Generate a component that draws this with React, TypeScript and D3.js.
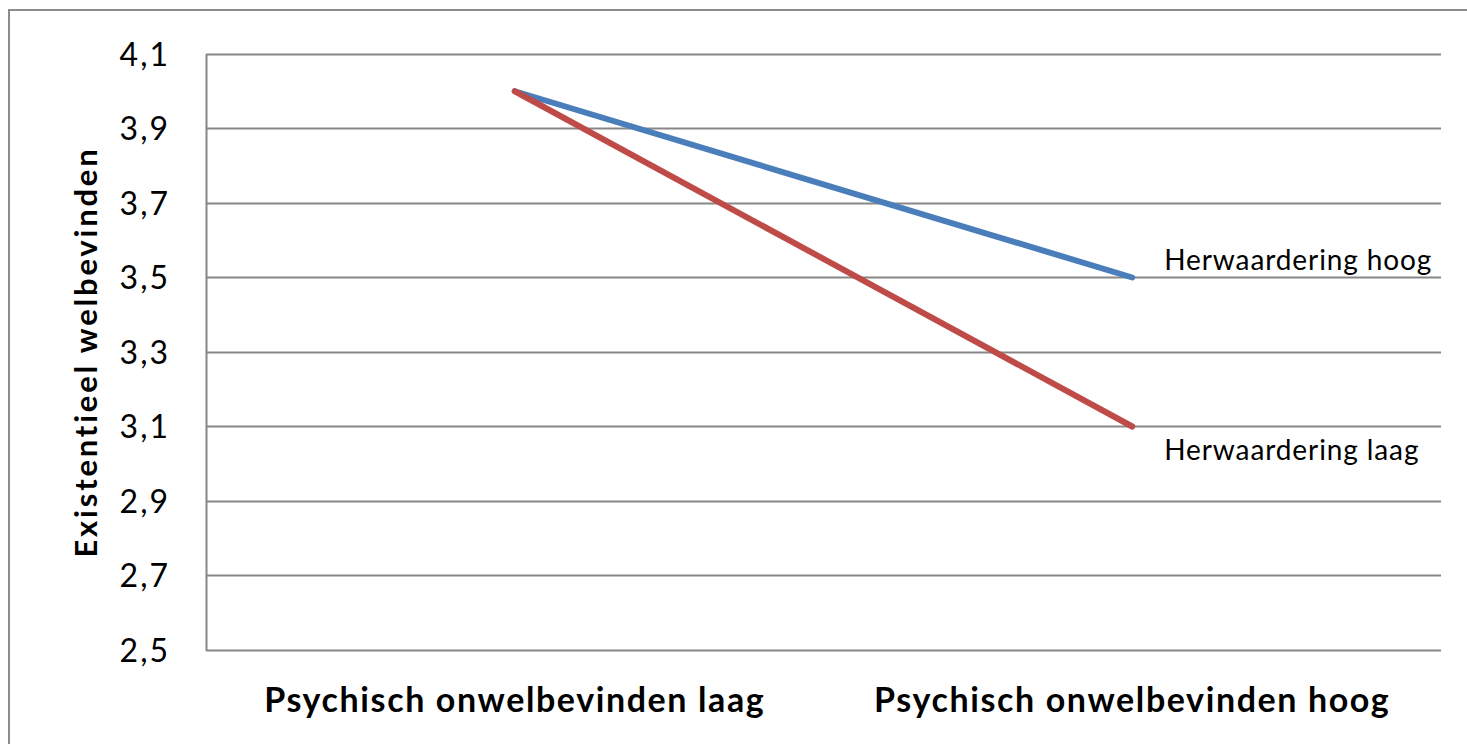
import React, { useEffect, useRef } from 'react';
import * as d3 from 'd3';

const categories = ['Psychisch onwelbevinden laag', 'Psychisch onwelbevinden hoog'];
const seriesNames = ['Herwaardering hoog', 'Herwaardering laag'];
const herwaarderingHoog = [4.0, 3.5];
const herwaarderingLaag = [4.0, 3.1];
const yTicks = [2.5, 2.7, 2.9, 3.1, 3.3, 3.5, 3.7, 3.9, 4.1];
const seriesColors = ['#4a7ebb', '#be4b48'];

const App = () => {
  const chartRef = useRef<SVGSVGElement>(null);

  useEffect(() => {
    document.body.style.margin = '0';
    const width = 1467;
    const height = 744;
    const margin = { top: 54, right: 26, bottom: 94, left: 206 };
    const font = 'Lato, "Open Sans", sans-serif';

    const svg = d3.select(chartRef.current);
    svg.selectAll('*').remove();

    svg.append('rect').attr('width', width).attr('height', height).attr('fill', 'white');

    // outer chart border, only top and left edges show in the picture
    svg
      .append('path')
      .attr('d', `M9,${height} L9,10 L${width},10`)
      .attr('fill', 'none')
      .attr('stroke', '#8c8c8c')
      .attr('stroke-width', 2);

    const x = d3
      .scaleBand()
      .domain(categories)
      .range([margin.left, width - margin.right]);

    const y = d3
      .scaleLinear()
      .domain([2.5, 4.1])
      .range([height - margin.bottom, margin.top]);

    const fmt = (v: number) => v.toFixed(1).replace('.', ',');

    // gridlines
    svg
      .append('g')
      .selectAll('line')
      .data(yTicks)
      .enter()
      .append('line')
      .attr('x1', margin.left)
      .attr('x2', width - margin.right)
      .attr('y1', (d) => Math.round(y(d)) + 0.5)
      .attr('y2', (d) => Math.round(y(d)) + 0.5)
      .attr('stroke', '#878787')
      .attr('stroke-width', 2);

    // vertical axis line
    svg
      .append('line')
      .attr('x1', margin.left + 0.5)
      .attr('x2', margin.left + 0.5)
      .attr('y1', y(4.1))
      .attr('y2', y(2.5) + 1)
      .attr('stroke', '#878787')
      .attr('stroke-width', 2);

    // y tick labels
    svg
      .append('g')
      .selectAll('text')
      .data(yTicks)
      .enter()
      .append('text')
      .attr('x', 170)
      .attr('y', (d) => y(d))
      .attr('dy', '0.36em')
      .attr('text-anchor', 'end')
      .style('font-family', font)
      .style('font-size', '32px')
      .style('letter-spacing', '2px')
      .style('fill', '#000')
      .text(fmt);

    // x category labels
    svg
      .append('g')
      .selectAll('text')
      .data(categories)
      .enter()
      .append('text')
      .attr('x', (d) => (x(d) as number) + x.bandwidth() / 2)
      .attr('y', 712)
      .attr('text-anchor', 'middle')
      .style('font-family', font)
      .style('font-weight', 'bold')
      .style('font-size', '34px')
      .style('letter-spacing', '1.6px')
      .style('fill', '#000')
      .text((d) => d);

    // y axis title
    svg
      .append('text')
      .attr('transform', `translate(97, ${(y(4.1) + y(2.5)) / 2}) rotate(-90)`)
      .attr('text-anchor', 'middle')
      .style('font-family', font)
      .style('font-weight', 'bold')
      .style('font-size', '31px')
      .style('letter-spacing', '2.8px')
      .style('fill', '#000')
      .text('Existentieel welbevinden');

    const line = d3
      .line<number>()
      .x((d, i) => (x(categories[i]) as number) + x.bandwidth() / 2)
      .y((d) => y(d));

    const series = [herwaarderingHoog, herwaarderingLaag];

    svg
      .append('g')
      .selectAll('path')
      .data(series)
      .enter()
      .append('path')
      .attr('d', (d) => line(d))
      .attr('fill', 'none')
      .attr('stroke', (d, i) => seriesColors[i])
      .attr('stroke-width', 6)
      .attr('stroke-linecap', 'round');

    // series labels at line ends
    const lastX = (x(categories[1]) as number) + x.bandwidth() / 2;
    const labelOffsets = [-8, 33];
    svg
      .append('g')
      .selectAll('text')
      .data(series)
      .enter()
      .append('text')
      .attr('x', lastX + 32)
      .attr('y', (d, i) => y(d[1]) + labelOffsets[i])
      .style('font-family', font)
      .style('font-size', '28px')
      .style('letter-spacing', '0.9px')
      .style('fill', '#000')
      .text((d, i) => seriesNames[i]);
  }, []);

  return <svg ref={chartRef} width={1467} height={744} style={{ display: 'block' }} />;
};

export default App;
